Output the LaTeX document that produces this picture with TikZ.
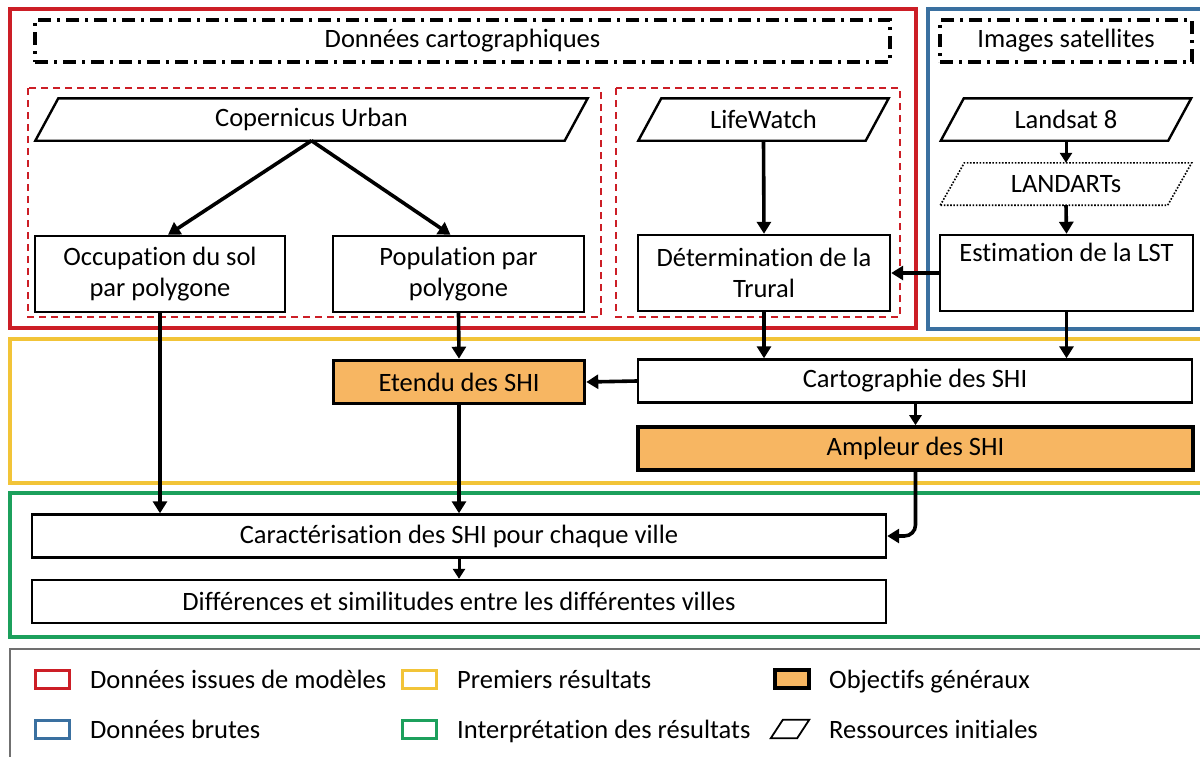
\documentclass[tikz,border=0pt]{standalone}
\usepackage{fontspec}
\setmainfont{Carlito}[Ligatures=NoCommon]
\usetikzlibrary{arrows.meta}
\definecolor{cred}{RGB}{204,30,38}
\definecolor{cblue}{RGB}{58,112,160}
\definecolor{cyellow}{RGB}{242,196,56}
\definecolor{cgreen}{RGB}{28,160,92}
\definecolor{corange}{RGB}{247,182,98}
\definecolor{cgray}{RGB}{112,112,112}
\newcommand{\parashape}[3][]{\draw[line width=2.4pt,#1] ([xshift=-#3]#2.south west) -- ([xshift=#3]#2.north west) -- ([xshift=#3]#2.north east) -- ([xshift=-#3]#2.south east) -- cycle;}
\begin{document}
\begin{tikzpicture}[x=1pt,y=-1pt,
  every node/.style={font=\fontsize{26.5}{31.5}\selectfont, inner sep=0pt, align=center},
  group/.style={line width=3.4pt},
  titlebox/.style={draw=black, line width=3.8pt, dash pattern=on 13pt off 6pt on 3pt off 6pt},
  subgroup/.style={draw=cred, line width=1.8pt, dash pattern=on 7pt off 5pt},
  stepbox/.style={draw=black, line width=2.4pt, rectangle},
  goalbox/.style={draw=black, line width=3.6pt, rectangle, fill=corange},
  arr/.style={line width=3.6pt, -{Triangle[length=12pt,width=14pt]}},
  sarr/.style={line width=3pt, -{Triangle[length=10pt,width=12pt]}},
  legicon/.style={line width=3pt, minimum width=34pt, minimum height=18pt},
  legtext/.style={anchor=base west},
]
\useasboundingbox (0,0) rectangle (1200,756);
\clip (0,0) rectangle (1200,756);
\fill[white] (0,0) rectangle (1200,756);

% group frames
\draw[group, cred] (10,9) rectangle (916,328);
\draw[group, cblue] (928,9) rectangle (1215,329);
\draw[group, cyellow] (10,339) rectangle (1215,483);
\draw[group, cgreen] (10,493) rectangle (1215,637);
\draw[line width=1.6pt, cgray] (10,649) rectangle (1215,770);

% sub groups
\draw[subgroup] (28,88) rectangle (601,317);
\draw[subgroup] (616,88) rectangle (900,317);

% titles
\node[titlebox, minimum width=855pt, minimum height=42pt] (t1) at (462.5,41) {Données cartographiques};
\node[titlebox, minimum width=252pt, minimum height=42pt] (t2) at (1066,41) {Images satellites};

% initial resources
\node[minimum width=529pt, minimum height=42pt] (cop) at (311.5,119.5) {Copernicus Urban};
\parashape{cop}{11.5pt}
\node[minimum width=227pt, minimum height=42pt] (life) at (763.5,119.5) {LifeWatch};
\parashape{life}{11.5pt}
\node[minimum width=227pt, minimum height=42pt] (land) at (1066,119.5) {Landsat 8};
\parashape{land}{11.5pt}
\node[minimum width=227pt, minimum height=42pt] (landarts) at (1066,184) {LANDARTs};
\parashape[line width=1.6pt, dash pattern=on 1.6pt off 1.6pt]{landarts}{12pt}

% steps
\node[stepbox, minimum width=250pt, minimum height=76pt] (occ) at (160,274) {Occupation du sol\\par polygone};
\node[stepbox, minimum width=251pt, minimum height=76pt] (pop) at (458.5,274) {Population par\\polygone};
\node[stepbox, minimum width=252pt, minimum height=76pt] (det) at (764,273) {Détermination de la\\Trural};
\node[stepbox, minimum width=253pt, minimum height=76pt] (est) at (1066.5,273) {Estimation de la LST\\\strut};

\node[goalbox, minimum width=251pt, minimum height=43pt] (etendu) at (459,382) {Etendu des SHI};
\node[stepbox, minimum width=554pt, minimum height=43pt] (carto) at (915,381) {Cartographie des SHI};
\node[goalbox, minimum width=555pt, minimum height=43pt] (ampl) at (915.5,448.5) {Ampleur des SHI};

\node[stepbox, minimum width=854pt, minimum height=43pt] (car) at (459,536) {Caractérisation des SHI pour chaque ville};
\node[stepbox, minimum width=854pt, minimum height=43pt] (dif) at (459,601.5) {Différences et similitudes entre les différentes villes};

% connectors
\draw[arr] (cop.south) -- ([xshift=8pt]occ.north);
\draw[arr] (cop.south) -- ([xshift=-8pt]pop.north);
\draw[arr] (life.south) -- (det.north);
\draw[sarr] (land.south) -- (landarts.north);
\draw[arr] (landarts.south) -- (est.north);
\draw[arr] (est.west) -- (det.east);
\draw[arr] (occ.south) -- (car.north -| occ.south);
\draw[arr] (pop.south) -- (etendu.north);
\draw[arr] (etendu.south) -- (car.north -| etendu.south);
\draw[arr] (det.south) -- (carto.north -| det.south);
\draw[arr] (est.south) -- (carto.north -| est.south);
\draw[arr] (carto.west) -- (etendu.east);
\draw[sarr] (carto.south -| ampl.north) -- (ampl.north);
\draw[arr, rounded corners=11pt] (ampl.south) |- (car.east);
\draw[sarr] (car.south) -- (dif.north);

% legend
\node[legicon, draw=cred] (lg1) at (52,679) {};
\node[legtext] (lt1) at (90,688) {Données issues de modèles};
\node[legicon, draw=cyellow] (lg2) at (419,679) {};
\node[legtext] (lt2) at (457,688) {Premiers résultats};
\node[legicon, draw=black, fill=corange, line width=3.8pt] (lg3) at (792,679) {};
\node[legtext] (lt3) at (829,688) {Objectifs généraux};
\node[legicon, draw=cblue] (lg4) at (52,729) {};
\node[legtext] (lt4) at (90,738) {Données brutes};
\node[legicon, draw=cgreen] (lg5) at (419,729) {};
\node[legtext] (lt5) at (457,738) {Interprétation des résultats};
\node[minimum width=26pt, minimum height=18pt] (lg6) at (790,729) {};
\parashape[line width=1.8pt]{lg6}{6pt}
\node[legtext] (lt6) at (829,738) {Ressources initiales};
\end{tikzpicture}
\end{document}
